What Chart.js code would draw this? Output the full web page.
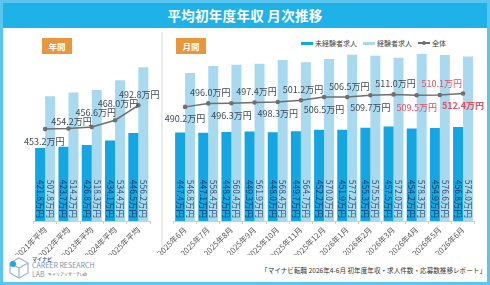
<!DOCTYPE html>
<html lang="ja">
<head>
<meta charset="utf-8">
<script src="https://cdn.jsdelivr.net/npm/chart.js@4.4.1/dist/chart.umd.min.js"></script>
<style>
html, body { margin: 0; padding: 0; }
body { width: 490px; height: 285px; position: relative; overflow: hidden; background: #fff;
  font-family: "Noto Sans CJK JP", "Noto Sans", sans-serif; }
#frame { position: absolute; left: 0; top: 0; width: 484px; height: 279px; border: 3px solid #5ac5ef; }
#header { position: absolute; left: 3px; top: 3px; width: 484px; height: 25px; background: #1fb2e9;
  color: #fff; font-weight: bold; font-size: 13.5px; text-align: center; line-height: 25px; letter-spacing: 0.3px; }
#divider { position: absolute; left: 161px; top: 32px; width: 2px; height: 222px; background: #ececec; }
.badge { position: absolute; top: 38px; width: 30px; height: 16px; background: #e9963c; color: #fff;
  font-weight: bold; font-size: 8.5px; line-height: 16px; text-align: center; }
#legend { position: absolute; left: 301px; top: 38px; display: flex; align-items: center; font-size: 7px; color: #444; }
#legend .item { display: flex; align-items: center; margin-right: 6px; }
#legend .mk { width: 12px; height: 3px; margin-right: 2px; }
canvas { position: absolute; }
#src { position: absolute; right: 4px; top: 265px; font-size: 6.6px; color: #333; white-space: nowrap; }
#logo { position: absolute; left: 8px; top: 255px; }
#logo .t1 { position: absolute; left: 24px; top: 0px; font-size: 5px; font-weight: bold; color: #556; white-space: nowrap; }
#logo .t2 { position: absolute; left: 24px; top: 5px; font-size: 7px; color: #7f93a8; white-space: nowrap; }
#logo .t3 { position: absolute; left: 24px; top: 14px; font-size: 7px; color: #7f93a8; white-space: nowrap; }
#logo .t4 { position: absolute; left: 40px; top: 16px; font-size: 4px; color: #556; white-space: nowrap; }
</style>
</head>
<body>
<div id="frame"></div>
<div id="header">平均初年度年収 月次推移</div>
<div id="divider"></div>
<div class="badge" style="left:42px">年間</div>
<div class="badge" style="left:176px">月間</div>
<div id="legend">
  <div class="item"><span class="mk" style="background:#14a6e2"></span>未経験者求人</div>
  <div class="item"><span class="mk" style="background:#a9d9ee"></span>経験者求人</div>
  <div class="item"><span class="mk" style="background:#707070;height:1.5px;position:relative"><span style="position:absolute;left:4px;top:-1.5px;width:4px;height:4px;border-radius:2px;background:#707070"></span></span>全体</div>
</div>
<canvas id="yearChart" width="162" height="225" style="left:0px;top:30px;width:162px;height:225px"></canvas>
<canvas id="monthChart" width="350" height="225" style="left:140px;top:30px;width:350px;height:225px"></canvas>
<div id="logo">
  <svg width="22" height="26" viewBox="0 0 22 26" style="position:absolute;left:0;top:0">
    <path d="M11 3 L20 8 L20 18 L11 23 L2 18 L2 8 Z M2 8 L11 13 L20 8 M11 13 L11 23" fill="none" stroke="#9fb4c8" stroke-width="1.2"/>
    <circle cx="5" cy="9" r="3" fill="#1fa8e4"/>
  </svg>
  <div class="t1">マイナビ</div>
  <div class="t2">CAREER RESEARCH</div>
  <div class="t3">LAB</div>
  <div class="t4">キャリアリサーチLab</div>
</div>
<div id="src">「マイナビ転職 2026年4-6月 初年度年収・求人件数・応募数推移レポート」</div>

<script>
// 年間
const yearLabels = ['2021年平均', '2022年平均', '2023年平均', '2024年平均', '2025年平均'];
const yearInexp = [421.8, 423.7, 426.8, 434.1, 446.5];
const yearExp = [507.8, 514.2, 518.3, 534.4, 556.2];
const yearAll = [453.2, 454.2, 456.6, 468.0, 492.8];

// 月間
const monthLabels = ['2025年6月', '2025年7月', '2025年8月', '2025年9月', '2025年10月', '2025年11月', '2025年12月',
  '2026年1月', '2026年2月', '2026年3月', '2026年4月', '2026年5月', '2026年6月'];
const monthInexp = [447.4, 447.1, 448.2, 449.3, 448.0, 449.7, 452.2, 451.9, 455.3, 457.5, 454.2, 454.9, 456.8];
const monthExp = [546.8, 558.4, 560.4, 561.9, 568.4, 564.7, 570.0, 577.2, 575.5, 572.0, 578.3, 576.6, 574.0];
const monthAll = [490.2, 496.0, 496.3, 497.4, 498.3, 501.2, 506.5, 506.5, 509.7, 511.0, 509.5, 510.1, 512.4];

const FONT = '"Noto Sans CJK JP", "Noto Sans", sans-serif';
const DARK = '#14a6e2';
const LIGHT = '#a9d9ee';
const LINE = '#6f6f6f';

// ラベル描画（棒の中の縦書き数値＋折れ線の値）
const valueLabels = {
  id: 'valueLabels',
  afterDatasetsDraw(chart, args, opts) {
    const ctx = chart.ctx;
    const bottom = chart.chartArea.bottom;
    ctx.save();
    ctx.font = '8.5px ' + FONT;
    [0, 1].forEach(di => {
      const meta = chart.getDatasetMeta(di);
      meta.data.forEach((bar, i) => {
        const v = chart.data.datasets[di].data[i];
        ctx.save();
        ctx.translate(bar.x, bottom - 3);
        ctx.rotate(Math.PI / 2);
        ctx.textAlign = 'right';
        ctx.textBaseline = 'middle';
        ctx.fillStyle = di === 0 ? '#153a64' : '#2e4e70';
        ctx.fillText(v.toFixed(1) + '万円', 0, 0);
        ctx.restore();
      });
    });
    const lineMeta = chart.getDatasetMeta(2);
    lineMeta.data.forEach((pt, i) => {
      const v = chart.data.datasets[2].data[i];
      const red = opts.red && opts.red[i];
      ctx.font = (opts.bold && opts.bold[i] ? 'bold ' : '') + '9px ' + FONT;
      ctx.fillStyle = red ? '#e4505e' : '#3e4a58';
      ctx.textAlign = 'center';
      ctx.textBaseline = 'middle';
      ctx.fillText(v.toFixed(1) + '万円', pt.x + opts.dx[i], pt.y + opts.dy[i]);
    });
    ctx.restore();
  }
};

function makeChart(id, labels, inexp, exp, all, padL, padR, labelOpts) {
  return new Chart(document.getElementById(id), {
    type: 'bar',
    data: {
      labels: labels,
      datasets: [
        { type: 'bar', label: '未経験者求人', data: inexp, backgroundColor: DARK, order: 1,
          categoryPercentage: 0.86, barPercentage: 1.0 },
        { type: 'bar', label: '経験者求人', data: exp, backgroundColor: LIGHT, order: 1,
          categoryPercentage: 0.86, barPercentage: 1.0 },
        { type: 'line', label: '全体', data: all, borderColor: LINE, backgroundColor: LINE, borderWidth: 1.5,
          pointRadius: 2.3, pointBackgroundColor: LINE, pointBorderWidth: 0, tension: 0, order: 0 }
      ]
    },
    options: {
      responsive: false,
      animation: false,
      layout: { padding: { left: padL, right: padR, top: 11, bottom: 0 } },
      plugins: {
        legend: { display: false },
        tooltip: { enabled: false },
        valueLabels: labelOpts
      },
      scales: {
        x: {
          grid: { display: true, drawOnChartArea: false, tickLength: 3, color: '#cfcfcf', offset: true },
          border: { display: true, color: '#cfcfcf' },
          ticks: { color: '#555', font: { family: FONT, size: 7.8 }, maxRotation: 45, minRotation: 45,
            autoSkip: false, padding: 1 },
          afterFit: (axis) => { axis.height = 34; }
        },
        y: { display: false, min: 300, max: 600 }
      }
    },
    plugins: [valueLabels]
  });
}

makeChart('yearChart', yearLabels, yearInexp, yearExp, yearAll, 33.5, 12,
  { dx: [-1, 3, 4, 3, 1], dy: [12, -7, -14, -17, -11] });

const alt = monthAll.map((v, i) => i % 2 === 0);
makeChart('monthChart', monthLabels, monthInexp, monthExp, monthAll, 33.5, 15.4,
  { dx: alt.map(b => b ? 0 : 2), dy: alt.map(b => b ? 12 : -11),
    red: [0, 0, 0, 0, 0, 0, 0, 0, 0, 0, 1, 1, 1],
    bold: [0, 0, 0, 0, 0, 0, 0, 0, 0, 0, 0, 0, 1] });
</script>
</body>
</html>
